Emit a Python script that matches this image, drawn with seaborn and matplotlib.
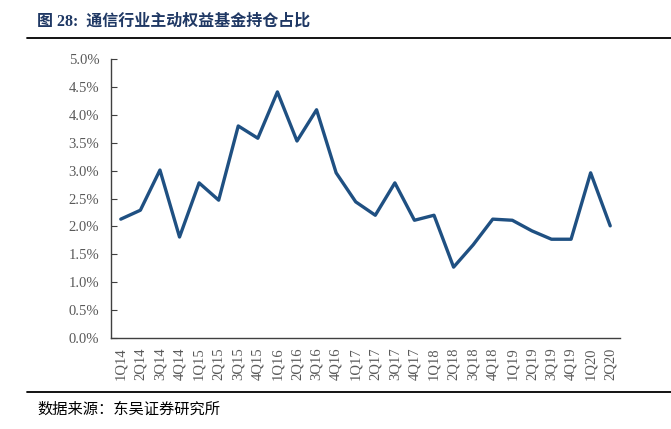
import matplotlib
matplotlib.use("Agg")
import matplotlib.pyplot as plt
import matplotlib.ticker as mticker
from matplotlib.lines import Line2D
import seaborn as sns
import pandas as pd

quarters = ["1Q14", "2Q14", "3Q14", "4Q14", "1Q15", "2Q15", "3Q15", "4Q15",
            "1Q16", "2Q16", "3Q16", "4Q16", "1Q17", "2Q17", "3Q17", "4Q17",
            "1Q18", "2Q18", "3Q18", "4Q18", "1Q19", "2Q19", "3Q19", "4Q19",
            "1Q20", "2Q20"]
share = [2.13, 2.29, 3.01, 1.81, 2.78, 2.47, 3.80, 3.58,
         4.41, 3.53, 4.09, 2.96, 2.44, 2.20, 2.78, 2.11,
         2.20, 1.27, 1.67, 2.13, 2.11, 1.92, 1.77, 1.77,
         2.96, 2.01]
yticks = [0.0, 0.5, 1.0, 1.5, 2.0, 2.5, 3.0, 3.5, 4.0, 4.5, 5.0]
title = "通信行业主动权益基金持仓占比"
title_prefix = "图 28:"
source = "数据来源：东吴证券研究所"

sns.set_theme(style="white")
plt.rcParams["font.family"] = ["Liberation Serif", "Noto Sans CJK SC", "DejaVu Sans"]

df = pd.DataFrame({"q": quarters, "v": share})
df["x"] = range(len(df))

fig = plt.figure(figsize=(6.71, 4.29), dpi=100)
ax = fig.add_axes([111 / 671, 1 - 338 / 429, (620 - 111) / 671, (338 - 59) / 429])

sns.lineplot(data=df, x="x", y="v", ax=ax, color="#1F5082", linewidth=2.4)

ax.set_xlim(-0.5, len(quarters) - 0.5)
ax.set_ylim(0, 5.0)
ax.set_yticks(yticks)
ax.yaxis.set_major_formatter(mticker.FuncFormatter(lambda v, p: f"{v:.1f}%"))
ax.set_xticks(df["x"])
ax.set_xticklabels(quarters, rotation=90)
ax.set_xlabel("")
ax.set_ylabel("")

for s in ["top", "right"]:
    ax.spines[s].set_visible(False)
for s in ["left", "bottom"]:
    ax.spines[s].set_color("#404040")
    ax.spines[s].set_linewidth(1.0)

ax.tick_params(axis="y", direction="in", length=4, width=0.8, color="#404040",
               labelsize=10.5, labelcolor="#595959", pad=8.5, left=True)
ax.tick_params(axis="x", length=0, labelsize=10.5, labelcolor="#595959", pad=7)

# title
fig.text(37 / 671, 1 - 22 / 429, title_prefix + "  " + title, fontsize=11.5,
         fontweight="bold", color="#1F3864", va="center", ha="left",
         family=["Liberation Serif", "Noto Sans CJK SC"])
fig.add_artist(Line2D([27 / 671, 1.0], [1 - 38 / 429, 1 - 38 / 429],
                      color="#000000", linewidth=1.3, transform=fig.transFigure))
fig.add_artist(Line2D([27 / 671, 1.0], [1 - 392 / 429, 1 - 392 / 429],
                      color="#000000", linewidth=1.3, transform=fig.transFigure))
fig.text(37 / 671, 1 - 409 / 429, source, fontsize=11, color="#000000",
         va="center", ha="left", family=["Noto Sans CJK SC", "DejaVu Sans"])

fig.savefig("out.png", dpi=100)
